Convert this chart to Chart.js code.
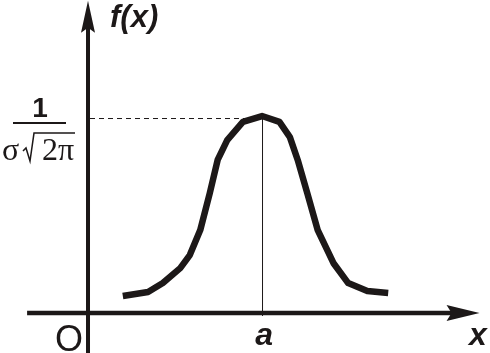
<!DOCTYPE html>
<html>
<head>
<meta charset="utf-8">
<script src="https://cdn.jsdelivr.net/npm/chart.js@4"></script>
<style>
  html, body { margin: 0; padding: 0; background: #fff; }
  #wrap { width: 490px; height: 353px; }
</style>
</head>
<body>
<div id="wrap"><canvas id="normalChart" width="490" height="353"></canvas></div>
<script>
// Bell curve (x in units where a = 10, y normalised so the peak = 1)
const curveX = [2.0, 3.45, 4.3, 5.3, 5.85, 6.45, 7.0, 7.45, 8.0, 8.9, 10.0, 11.0, 11.6, 12.05, 12.6, 13.2, 14.1, 14.95, 16.05, 17.25];
const curveY = [0.086, 0.107, 0.152, 0.228, 0.294, 0.421, 0.609, 0.777, 0.878, 0.97, 1.0, 0.97, 0.893, 0.777, 0.609, 0.421, 0.254, 0.152, 0.112, 0.102];

// Axis extents and the marked point a
const xAxisRange = [-3.5, 22.5];
const yAxisRange = [-0.2, 1.585];
const peakX = 10;
const peakY = 1;

const ink = "#1c1818";

const curvePoints = curveX.map((x, i) => ({ x: x, y: curveY[i] }));

// Axes, arrows and labels
const axesPlugin = {
  id: "mathAxes",
  beforeDatasetsDraw(chart) {
    const ctx = chart.ctx;
    const xs = chart.scales.x;
    const ys = chart.scales.y;
    const ox = xs.getPixelForValue(0);
    const oy = ys.getPixelForValue(0);
    const px = xs.getPixelForValue(peakX);
    const py = ys.getPixelForValue(peakY);

    ctx.save();
    ctx.strokeStyle = ink;
    ctx.fillStyle = ink;

    // x axis
    const xEnd = xs.getPixelForValue(xAxisRange[1]);
    ctx.lineWidth = 4.5;
    ctx.beginPath();
    ctx.moveTo(xs.getPixelForValue(xAxisRange[0]), oy);
    ctx.lineTo(xEnd - 20, oy);
    ctx.stroke();
    ctx.beginPath();
    ctx.moveTo(xEnd, oy);
    ctx.lineTo(xEnd - 33, oy - 8);
    ctx.lineTo(xEnd - 28, oy);
    ctx.lineTo(xEnd - 33, oy + 8);
    ctx.closePath();
    ctx.fill();

    // y axis
    const yEnd = ys.getPixelForValue(yAxisRange[1]);
    ctx.lineWidth = 4;
    ctx.beginPath();
    ctx.moveTo(ox, chart.height);
    ctx.lineTo(ox, yEnd + 20);
    ctx.stroke();
    ctx.beginPath();
    ctx.moveTo(ox, yEnd);
    ctx.lineTo(ox - 7, yEnd + 32);
    ctx.lineTo(ox, yEnd + 27);
    ctx.lineTo(ox + 7, yEnd + 32);
    ctx.closePath();
    ctx.fill();

    // dashed guide to the peak
    ctx.lineWidth = 1;
    ctx.setLineDash([5, 4]);
    ctx.beginPath();
    ctx.moveTo(ox + 2, py + 2.5);
    ctx.lineTo(px - 18, py + 2.5);
    ctx.stroke();
    ctx.setLineDash([]);

    // thin vertical at a
    ctx.beginPath();
    ctx.moveTo(px + 0.5, py);
    ctx.lineTo(px + 0.5, oy + 3);
    ctx.stroke();

    // labels
    ctx.textBaseline = "alphabetic";
    ctx.textAlign = "left";
    ctx.font = "italic bold 31px 'Liberation Sans', Arial, sans-serif";
    ctx.fillText("f(x)", ox + 22, 27);

    ctx.font = "italic bold 32px 'Liberation Sans', Arial, sans-serif";
    ctx.textAlign = "center";
    ctx.fillText("a", px + 2, oy + 32);
    ctx.fillText("x", 478, oy + 32);

    ctx.font = "36px 'Liberation Sans', Arial, sans-serif";
    ctx.fillText("O", ox - 19, oy + 38);

    // 1 / (sigma sqrt(2 pi))
    const fy = py + 7;
    ctx.font = "bold 28px 'Liberation Sans', Arial, sans-serif";
    ctx.fillText("1", 40, fy - 6);
    ctx.lineWidth = 2;
    ctx.beginPath();
    ctx.moveTo(13, fy);
    ctx.lineTo(66, fy);
    ctx.stroke();

    ctx.font = "32px 'Liberation Serif', 'Times New Roman', serif";
    ctx.textAlign = "left";
    ctx.fillText("\u03c3", 2, fy + 37);
    ctx.fillText("2\u03c0", 42, fy + 37);
    ctx.lineWidth = 1.5;
    ctx.beginPath();
    ctx.moveTo(23, fy + 28);
    ctx.lineTo(26, fy + 25);
    ctx.lineTo(30, fy + 38);
    ctx.lineTo(34, fy + 10);
    ctx.lineTo(75, fy + 10);
    ctx.stroke();

    ctx.restore();
  }
};

new Chart(document.getElementById("normalChart"), {
  type: "scatter",
  data: {
    datasets: [
      {
        label: "f(x)",
        data: curvePoints,
        showLine: true,
        borderColor: ink,
        borderWidth: 6.5,
        borderJoinStyle: "round",
        pointRadius: 0,
        tension: 0,
        fill: false
      }
    ]
  },
  options: {
    responsive: false,
    animation: false,
    layout: { padding: 0 },
    plugins: {
      legend: { display: false },
      title: { display: false },
      tooltip: { enabled: false }
    },
    scales: {
      x: {
        type: "linear",
        display: false,
        min: -5.057,
        max: 23.1
      },
      y: {
        type: "linear",
        display: false,
        min: -0.203,
        max: 1.589
      }
    }
  },
  plugins: [axesPlugin]
});
</script>
</body>
</html>
